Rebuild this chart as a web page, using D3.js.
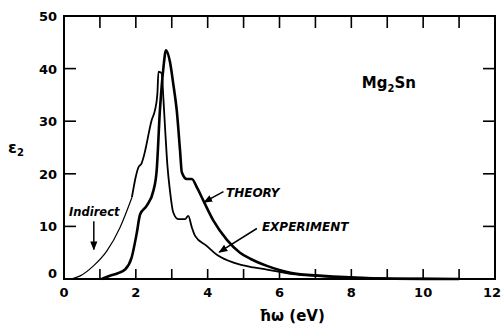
<!DOCTYPE html>
<html>
<head>
<meta charset="utf-8">
<script src="https://cdn.jsdelivr.net/npm/d3@7"></script>
<style>
  body { margin: 0; background: #fff; }
  text { font-family: "DejaVu Sans", sans-serif; font-weight: bold; fill: #000; }
</style>
</head>
<body>
<div id="chart"></div>
<script>
// photon energy (eV) and epsilon_2
const theoryX = [1.05, 1.28, 1.5, 1.7, 1.88, 2.02, 2.12, 2.3, 2.49, 2.58, 2.67, 2.77, 2.84, 2.95, 3.04, 3.14, 3.23, 3.28, 3.42, 3.56, 3.7, 3.88, 4.16, 4.53, 4.9, 5.2, 5.65, 6.3, 7.2, 8.6, 10, 11];
const theoryY = [0, 0.6, 1.1, 1.8, 4, 8.5, 12.3, 13.9, 16.8, 20.6, 32, 40.3, 43.5, 41.3, 37.2, 32, 24.5, 20.3, 19, 19, 17.4, 14.9, 11.1, 7.5, 5, 3.8, 2.5, 1.2, 0.6, 0.15, 0.02, 0];

// indirect-gap tail of the experiment (thin line)
const indirectX = [0.2, 0.45, 0.82, 1.19, 1.56, 1.89];
const indirectY = [0, 0.6, 2.5, 5.3, 9.8, 15.5];

const experimentX = [1.89, 2.0, 2.07, 2.16, 2.26, 2.3, 2.44, 2.53, 2.6, 2.63, 2.72, 2.77, 2.82, 2.88, 2.95, 3.04, 3.18, 3.37, 3.46, 3.56, 3.65, 3.97, 4.3, 4.72, 5.27, 5.65, 6.3, 7.2, 8.5, 10, 11.2];
const experimentY = [15.5, 19.5, 21.2, 22, 24.4, 25.7, 30.2, 32, 35.2, 39.4, 39.1, 34, 28, 21.5, 16.8, 12.7, 11.4, 11.4, 12, 9.8, 8.2, 6.3, 4.4, 3.1, 2.2, 1.8, 1.0, 0.5, 0.2, 0.05, 0];

const xTickLabels = [0, 2, 4, 6, 8, 10, 12];
const yTickLabels = [0, 10, 20, 30, 40, 50];

const width = 502, height = 326;
const x = d3.scaleLinear().domain([0, 12]).range([64, 495]);
const y = d3.scaleLinear().domain([0, 50]).range([279, 16]);

const svg = d3.select('#chart').append('svg')
  .attr('width', width)
  .attr('height', height);

svg.append('defs').append('marker')
  .attr('id', 'head')
  .attr('viewBox', '0 0 10 10')
  .attr('refX', 9).attr('refY', 5)
  .attr('markerWidth', 9).attr('markerHeight', 9)
  .attr('markerUnits', 'userSpaceOnUse')
  .attr('orient', 'auto')
  .append('path')
  .attr('d', 'M0,1 L10,5 L0,9 Z')
  .attr('fill', '#000');

// frame with inward ticks on all sides
const ink = '#000';
const frame = svg.append('g').attr('stroke', ink).attr('fill', 'none');
frame.append('rect')
  .attr('x', x(0)).attr('y', y(50))
  .attr('width', x(12) - x(0)).attr('height', y(0) - y(50))
  .attr('stroke-width', 2);

const xt = d3.range(1, 12);
frame.selectAll('.bt').data(xt).join('line')
  .attr('x1', d => x(d)).attr('x2', d => x(d))
  .attr('y1', y(0)).attr('y2', y(0) - 10)
  .attr('stroke-width', 1.6);
frame.selectAll('.tt').data(xt).join('line')
  .attr('x1', d => x(d)).attr('x2', d => x(d))
  .attr('y1', y(50)).attr('y2', y(50) + 12)
  .attr('stroke-width', 1.6);
const yt = [10, 20, 30, 40];
frame.selectAll('.lt').data(yt).join('line')
  .attr('x1', x(0)).attr('x2', x(0) + 12)
  .attr('y1', d => y(d)).attr('y2', d => y(d))
  .attr('stroke-width', 1.6);
frame.selectAll('.rt').data(yt).join('line')
  .attr('x1', x(12)).attr('x2', x(12) - 12)
  .attr('y1', d => y(d)).attr('y2', d => y(d))
  .attr('stroke-width', 1.6);

// the last label is pulled in a little so it stays on the page
svg.selectAll('.xl').data(xTickLabels).join('text')
  .attr('x', d => d === 12 ? x(d) - 3 : x(d)).attr('y', 297)
  .attr('text-anchor', 'middle')
  .attr('font-size', 13)
  .text(d => d);
svg.selectAll('.yl').data(yTickLabels).join('text')
  .attr('x', 57).attr('y', d => d === 0 ? y(d) - 1 : y(d) + 5)
  .attr('text-anchor', 'end')
  .attr('font-size', 13)
  .text(d => d);

// curves
const line = d3.line()
  .x(d => x(d[0])).y(d => y(d[1]))
  .curve(d3.curveMonotoneX);

svg.append('path')
  .datum(d3.zip(indirectX, indirectY))
  .attr('d', line).attr('fill', 'none')
  .attr('stroke', ink).attr('stroke-width', 1.2);
svg.append('path')
  .datum(d3.zip(experimentX, experimentY))
  .attr('d', line).attr('fill', 'none')
  .attr('stroke', ink).attr('stroke-width', 1.8).attr('stroke-linejoin', 'round');
svg.append('path')
  .datum(d3.zip(theoryX, theoryY))
  .attr('d', line).attr('fill', 'none')
  .attr('stroke', ink).attr('stroke-width', 2.6).attr('stroke-linejoin', 'round');

// annotations
const arrows = [
  [[0.83, 11], [0.83, 5.6]],
  [[4.44, 16.6], [3.9, 14.6]],
  [[5.37, 9.6], [4.32, 5.1]]
];
svg.selectAll('.arrow').data(arrows).join('line')
  .attr('x1', d => x(d[0][0])).attr('y1', d => y(d[0][1]))
  .attr('x2', d => x(d[1][0])).attr('y2', d => y(d[1][1]))
  .attr('stroke', ink).attr('stroke-width', 1.5)
  .attr('marker-end', 'url(#head)');

svg.append('text')
  .attr('x', x(0.14)).attr('y', y(12))
  .attr('font-size', 11.5).attr('font-style', 'italic')
  .text('Indirect');
svg.append('text')
  .attr('x', x(4.51)).attr('y', y(15.6))
  .attr('font-size', 12).attr('font-style', 'italic')
  .text('THEORY');
svg.append('text')
  .attr('x', x(5.51)).attr('y', y(9.1))
  .attr('font-size', 12).attr('font-style', 'italic')
  .text('EXPERIMENT');

const mg = svg.append('text')
  .attr('x', x(8.29)).attr('y', y(36.3))
  .attr('font-size', 15);
mg.append('tspan').text('Mg');
mg.append('tspan').attr('font-size', 10).attr('dy', 4).text('2');
mg.append('tspan').attr('dy', -4).text('Sn');

const eps = svg.append('text')
  .attr('x', 8).attr('y', 153)
  .attr('font-size', 16);
eps.append('tspan').text('ε');
eps.append('tspan').attr('font-size', 10).attr('dy', 3).text('2');

svg.append('text')
  .attr('x', 292).attr('y', 321)
  .attr('text-anchor', 'middle')
  .attr('font-size', 15)
  .text('ħω (eV)');
</script>
</body>
</html>
